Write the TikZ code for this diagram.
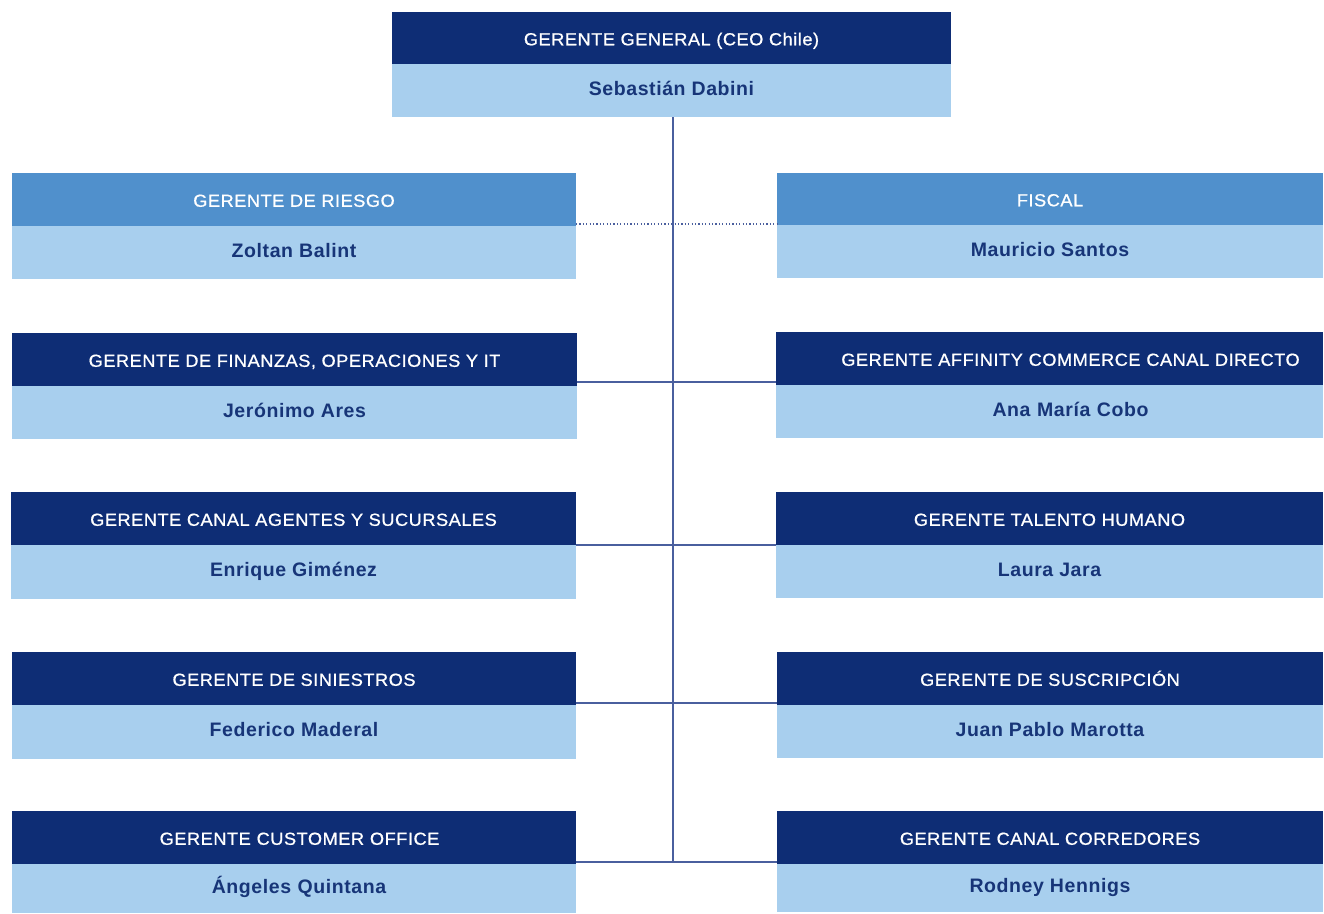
\documentclass[tikz,border=0pt]{standalone}
\usepackage{fontspec}
\setmainfont{Liberation Sans}
\newfontfamily\hdfont[LetterSpace=3,FakeStretch=1.04,FakeBold=0.8]{Liberation Sans}
\newfontfamily\nmfont[LetterSpace=3]{Liberation Sans}
\definecolor{navy}{HTML}{0E2D75}
\definecolor{lightb}{HTML}{A8CFEE}
\definecolor{midb}{HTML}{5090CC}
\definecolor{linec}{HTML}{4A5F9E}
\definecolor{nametext}{HTML}{173578}
\begin{document}
\begin{tikzpicture}[x=1pt,y=-1pt,
  hd/.style={fill=navy,text=white,inner sep=0pt,outer sep=0pt,anchor=north west,minimum height=#1,
     text height=14.6pt,text depth=0pt,
     font=\hdfont\fontsize{17.5}{20}\selectfont},
  hd/.default=53,
  hdmid/.style={hd=#1,fill=midb},
  hdmid/.default=52,
  nm/.style={fill=lightb,text=nametext,inner sep=0pt,outer sep=0pt,anchor=north west,minimum height=#1,
     text height=13.5pt,text depth=4pt,
     font=\nmfont\bfseries\fontsize{19.5}{22}\selectfont},
  nm/.default=53,
  conn/.style={draw=linec,line width=1.8pt},
  dotconn/.style={draw=linec,line width=1.5pt,dash pattern=on 1.2pt off 2.2pt}
]
\useasboundingbox (0,0) rectangle (1324,913);
\fill[white] (0,0) rectangle (1324,913);

% top
\node[hd=52,minimum width=559] (th) at (392,12) {GERENTE GENERAL (CEO Chile)};
\node[nm=53,minimum width=559] (tn) at (th.south west) {Sebastián Dabini};

% left column
\node[hdmid=53,minimum width=564] (l1h) at (12,173) {GERENTE DE RIESGO};
\node[nm=53,minimum width=564] (l1n) at (l1h.south west) {Zoltan Balint};
\node[hd=53,minimum width=565] (l2h) at (12,333) {GERENTE DE FINANZAS, OPERACIONES Y IT};
\node[nm=53,minimum width=565] (l2n) at (l2h.south west) {Jerónimo Ares};
\node[hd=53,minimum width=565] (l3h) at (11,492) {GERENTE CANAL AGENTES Y SUCURSALES};
\node[nm=54,minimum width=565] (l3n) at (l3h.south west) {Enrique Giménez};
\node[hd=53,minimum width=564] (l4h) at (12,652) {GERENTE DE SINIESTROS};
\node[nm=54,minimum width=564] (l4n) at (l4h.south west) {Federico Maderal};
\node[hd=53,minimum width=564,text width=564,align=center] (l5h) at (12,811) {\hspace*{11pt}GERENTE CUSTOMER OFFICE};
\node[nm=49,minimum width=564,text width=564,align=center] (l5n) at (l5h.south west) {\hspace*{10pt}Ángeles Quintana};

% right column
\node[hdmid=52,minimum width=546] (r1h) at (777,173) {FISCAL};
\node[nm=53,minimum width=546] (r1n) at (r1h.south west) {Mauricio Santos};
\node[hd=53,minimum width=547,text width=547,align=center] (r2h) at (776,332) {\hspace*{42pt}GERENTE AFFINITY COMMERCE CANAL DIRECTO};
\node[nm=53,minimum width=547,text width=547,align=center] (r2n) at (r2h.south west) {\hspace*{42pt}Ana María Cobo};
\node[hd=53,minimum width=547] (r3h) at (776,492) {GERENTE TALENTO HUMANO};
\node[nm=53,minimum width=547] (r3n) at (r3h.south west) {Laura Jara};
\node[hd=53,minimum width=546] (r4h) at (777,652) {GERENTE DE SUSCRIPCIÓN};
\node[nm=53,minimum width=546] (r4n) at (r4h.south west) {Juan Pablo Marotta};
\node[hd=53,minimum width=546] (r5h) at (777,811) {GERENTE CANAL CORREDORES};
\node[nm=48,minimum width=546] (r5n) at (r5h.south west) {Rodney Hennigs};

% connectors
\coordinate (vend) at (673,862);
\draw[conn] (tn.south -| vend) -- (vend);
\draw[dotconn] ([yshift=2pt]l1h.south east) -- ([yshift=2pt]l1h.south east -| r1h.west);
\draw[conn] ([yshift=4pt]l2h.south east) -- ([yshift=4pt]l2h.south east -| r2h.west);
\draw[conn] (l3h.south east) -- (l3h.south east -| r3h.west);
\draw[conn] ([yshift=2pt]l4h.south east) -- ([yshift=2pt]l4h.south east -| r4h.west);
\draw[conn] ([yshift=2pt]l5h.south east) -- ([yshift=2pt]l5h.south east -| r5h.west);
\end{tikzpicture}
\end{document}
